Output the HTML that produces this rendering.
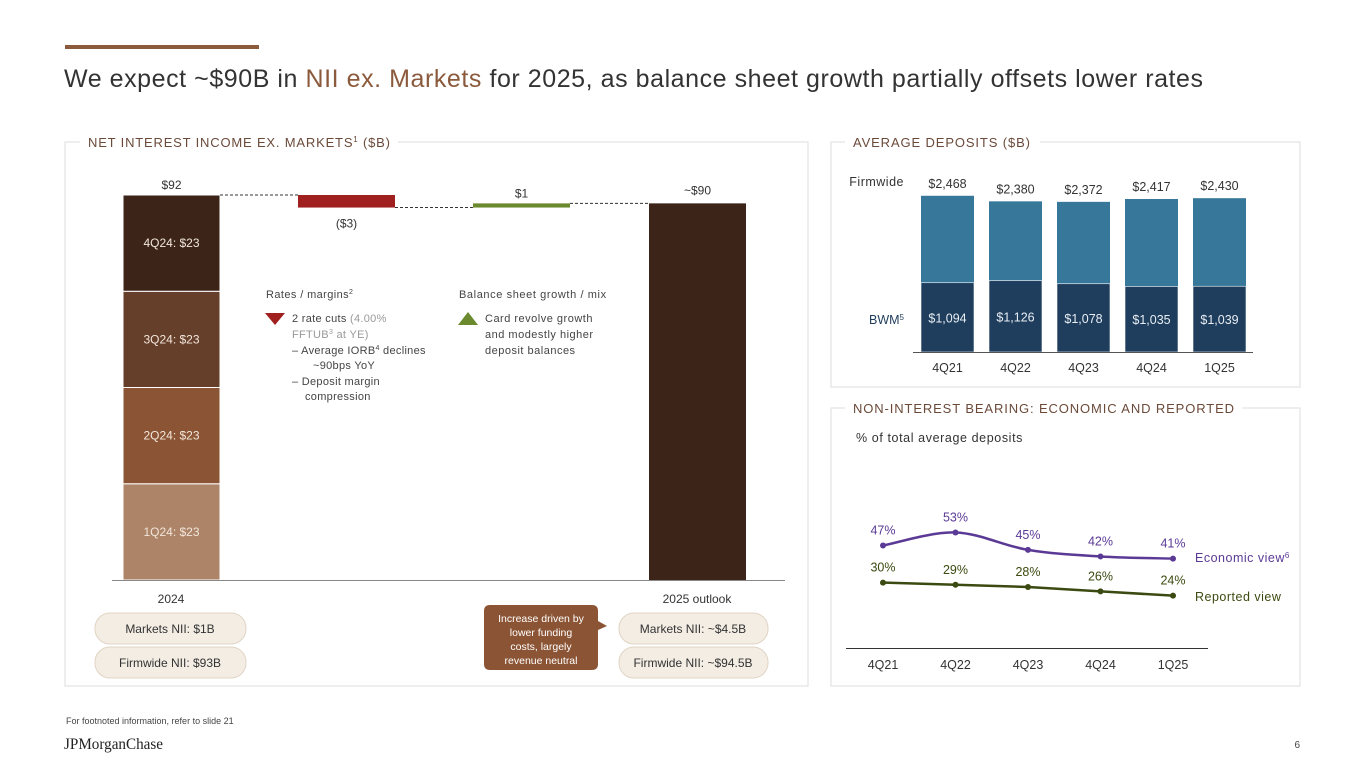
<!DOCTYPE html>
<html><head><meta charset="utf-8"><style>
html,body{margin:0;padding:0;background:#fff;}
svg{display:block;font-family:"Liberation Sans",sans-serif;}
</style></head><body>
<svg id="s" width="1365" height="768" viewBox="0 0 1365 768" xmlns="http://www.w3.org/2000/svg">
<rect x="65" y="45" width="194" height="4" fill="#8b5a3c"/>
<text x="64" y="87" font-size="25" fill="#333" textLength="1139" lengthAdjust="spacing">We expect ~$90B in <tspan fill="#8b5a3c">NII ex. Markets</tspan> for 2025, as balance sheet growth partially offsets lower rates</text>

<!-- panels -->
<g fill="none" stroke="#ddd" stroke-width="1">
<path d="M80 142 H65 V686 H808 V142 H398"/>
<path d="M845 142 H831 V387 H1300 V142 H1040"/>
<path d="M845 408 H831 V686 H1300 V408 H1242"/>
</g>
<text x="88" y="147" font-size="13" fill="#6b4a3a" textLength="302" lengthAdjust="spacing">NET INTEREST INCOME EX. MARKETS<tspan font-size="8" dy="-5">1</tspan><tspan dy="5"> ($B)</tspan></text>
<text x="853" y="147" font-size="13" fill="#6b4a3a" textLength="177" lengthAdjust="spacing">AVERAGE DEPOSITS ($B)</text>
<text x="853" y="413" font-size="13" fill="#6b4a3a" textLength="381" lengthAdjust="spacing">NON-INTEREST BEARING: ECONOMIC AND REPORTED</text>

<g id="wf"></g>
<g id="dep"></g>
<g id="nib"></g>

<!-- annotations -->
<text x="266" y="298" font-size="11" fill="#444" letter-spacing="0.4">Rates / margins<tspan font-size="7" dy="-4">2</tspan></text>
<polygon points="265,313 285,313 275,325" fill="#a01f1f"/>
<text font-size="11" fill="#444" letter-spacing="0.3">
<tspan x="292" y="322">2 rate cuts <tspan fill="#999">(4.00%</tspan></tspan>
<tspan x="292" y="338" fill="#999">FFTUB<tspan font-size="7" dy="-4">3</tspan><tspan dy="4"> at YE)</tspan></tspan>
<tspan x="292" y="354">–  Average IORB<tspan font-size="7" dy="-4">4</tspan><tspan dy="4"> declines</tspan></tspan>
<tspan x="313" y="369">~90bps YoY</tspan>
<tspan x="292" y="385">–  Deposit margin</tspan>
<tspan x="305" y="400">compression</tspan>
</text>
<text x="459" y="298" font-size="11" fill="#444" letter-spacing="0.6">Balance sheet growth / mix</text>
<polygon points="458,325 478,325 468,312" fill="#6b8a2e"/>
<text font-size="11" fill="#444" letter-spacing="0.5">
<tspan x="485" y="322">Card revolve growth</tspan>
<tspan x="485" y="338">and modestly higher</tspan>
<tspan x="485" y="354">deposit balances</tspan>
</text>

<text x="171" y="603" font-size="12" fill="#333" text-anchor="middle">2024</text>
<text x="697" y="603" font-size="12" fill="#333" text-anchor="middle">2025 outlook</text>

<g font-size="12" fill="#333" text-anchor="middle">
<rect x="95" y="613" width="151" height="31" rx="15" fill="#f3ede4" stroke="#e0d4c4"/>
<text x="170" y="633">Markets NII: $1B</text>
<rect x="95" y="647" width="151" height="31" rx="15" fill="#f3ede4" stroke="#e0d4c4"/>
<text x="170" y="667">Firmwide NII: $93B</text>
<rect x="619" y="613" width="149" height="31" rx="15" fill="#f3ede4" stroke="#e0d4c4"/>
<text x="693" y="633">Markets NII: ~$4.5B</text>
<rect x="619" y="647" width="149" height="31" rx="15" fill="#f3ede4" stroke="#e0d4c4"/>
<text x="693" y="667">Firmwide NII: ~$94.5B</text>
</g>
<path d="M490 605 H592 Q598 605 598 611 V621 L607 626 L598 630 V664 Q598 670 592 670 H490 Q484 670 484 664 V611 Q484 605 490 605 Z" fill="#8b5434"/>
<text font-size="10.5" fill="#fff" text-anchor="middle">
<tspan x="541" y="622">Increase driven by</tspan><tspan x="541" y="636">lower funding</tspan><tspan x="541" y="650">costs, largely</tspan><tspan x="541" y="664">revenue neutral</tspan></text>

<text x="66" y="724" font-size="9" fill="#444">For footnoted information, refer to slide 21</text>
<text x="64" y="749" font-size="16" fill="#222" font-family="Liberation Serif,serif" textLength="99" lengthAdjust="spacingAndGlyphs">JPMorganChase</text>
<text x="1300" y="748" font-size="10" fill="#444" text-anchor="end">6</text>
</svg>
<script>
const NS="http://www.w3.org/2000/svg";
function mk(p,tag,attrs,txt){const e=document.createElementNS(NS,tag);for(const k in attrs)e.setAttribute(k,attrs[k]);if(txt!==undefined)e.textContent=txt;p.appendChild(e);return e;}

// ---------- Waterfall data ----------
const wfQuarters=["1Q24","2Q24","3Q24","4Q24"];
const wfQuarterValues=[23,23,23,23];
const wfTotal2024=92;
const wfRates=-3;
const wfBalance=1;
const wfTotal2025=90;
const wfTopLabels=["$92","($3)","$1","~$90"];

const wf=document.getElementById('wf');
const wfBase=580, wfScale=385/92;
const wY=v=>wfBase-v*wfScale;
const wfX=[123,298,473,649], wfW=97;
const qColors=["#ad8467","#8b5434","#663f2a","#3d2418"];
let cum=0;
wfQuarters.forEach((q,i)=>{
  const y0=wY(cum), y1=wY(cum+wfQuarterValues[i]);
  const r=mk(wf,'rect',{x:wfX[0],y:y1,width:wfW,height:y0-y1,fill:qColors[i],stroke:"#fff","stroke-width":1});
  
  
  const t=mk(wf,'text',{x:wfX[0]+wfW/2,y:(y0+y1)/2+4,"font-size":12,fill:"#f1e6dc","text-anchor":"middle"},q+": $"+wfQuarterValues[i]);
  
  
  cum+=wfQuarterValues[i];
});
const afterRates=wfTotal2024+wfRates;
const rr=mk(wf,'rect',{x:wfX[1],y:wY(wfTotal2024),width:wfW,height:wY(afterRates)-wY(wfTotal2024),fill:"#a01f1f"});


const afterBal=afterRates+wfBalance;
const br=mk(wf,'rect',{x:wfX[2],y:wY(afterBal),width:wfW,height:wY(afterRates)-wY(afterBal),fill:"#6b8a2e"});


const tr=mk(wf,'rect',{x:wfX[3],y:wY(wfTotal2025),width:wfW,height:wfBase-wY(wfTotal2025),fill:"#3d2418"});


[[wfX[0]+wfW,wfX[1],wY(wfTotal2024)],[wfX[1]+wfW,wfX[2],wY(afterRates)],[wfX[2]+wfW,wfX[3],wY(afterBal)]].forEach((c,i)=>{
  const l=mk(wf,'line',{x1:c[0],x2:c[1],y1:c[2],y2:c[2],stroke:"#333","stroke-dasharray":"3,2","stroke-width":1});
  
  
});
const wfLabelY=[wY(wfTotal2024)-6,wY(afterRates)+20,wY(afterBal)-6,wY(wfTotal2025)-9];
wfTopLabels.forEach((s,i)=>{
  const t=mk(wf,'text',{x:wfX[i]+wfW/2,y:wfLabelY[i],"font-size":12,fill:"#333","text-anchor":"middle"},s);
  
  
});
const wax=mk(wf,'line',{x1:112,x2:785,y1:wfBase+0.5,y2:wfBase+0.5,stroke:"#888","stroke-width":1});



// ---------- Deposits data ----------
const depPeriods=["4Q21","4Q22","4Q23","4Q24","1Q25"];
const depFirmwide=[2468,2380,2372,2417,2430];
const depBWM=[1094,1126,1078,1035,1039];

const dep=document.getElementById('dep');
const dBase=352, dScale=0.0633;
const dY=v=>dBase-v*dScale;
const dX=i=>921+i*68, dW=53;
depPeriods.forEach((p,i)=>{
  const r1=mk(dep,'rect',{x:dX(i),y:dY(depFirmwide[i]),width:dW,height:dY(depBWM[i])-dY(depFirmwide[i]),fill:"#36779a"});
  
  
  const r2=mk(dep,'rect',{x:dX(i),y:dY(depBWM[i]),width:dW,height:dBase-dY(depBWM[i]),fill:"#1f3d5c",stroke:"#fff","stroke-width":0.6});
  
  
  const t1=mk(dep,'text',{x:dX(i)+dW/2,y:dY(depFirmwide[i])-8,"font-size":12.5,fill:"#333","text-anchor":"middle"},"$"+depFirmwide[i].toLocaleString('en-US'));
  
  
  const t2=mk(dep,'text',{x:dX(i)+dW/2,y:(dBase+dY(depBWM[i]))/2+5,"font-size":12.5,fill:"#e8eef4","text-anchor":"middle"},"$"+depBWM[i].toLocaleString('en-US'));
  
  
  const t3=mk(dep,'text',{x:dX(i)+dW/2,y:372,"font-size":12.5,fill:"#333","text-anchor":"middle"},p);
  
  
});
const dax=mk(dep,'line',{x1:913,x2:1253,y1:dBase+0.5,y2:dBase+0.5,stroke:"#555"});


const fl=mk(dep,'text',{x:904,y:186,"font-size":12.5,fill:"#333","text-anchor":"end","letter-spacing":0.5},"Firmwide");


const bl=mk(dep,'text',{x:904,y:324,"font-size":12.5,fill:"#1f3d5c","text-anchor":"end"},"BWM");


mk(bl,'tspan',{"font-size":8,dy:-4},"5");

// ---------- Non-interest bearing data ----------
const nibPeriods=["4Q21","4Q22","4Q23","4Q24","1Q25"];
const nibEconomic=[47,53,45,42,41];
const nibReported=[30,29,28,26,24];

const nib=document.getElementById('nib');
const nBase=648, nScale=2.18;
const nY=v=>nBase-v*nScale;
const nX=i=>883+i*72.5;
const st=mk(nib,'text',{x:856,y:442,"font-size":12.5,fill:"#333","letter-spacing":0.6},"% of total average deposits");


function smooth(vals){
  const pts=vals.map((v,i)=>[nX(i),nY(v)]);
  let d="M"+pts[0][0]+" "+pts[0][1];
  for(let i=0;i<pts.length-1;i++){
    const p0=pts[i-1]||pts[i],p1=pts[i],p2=pts[i+1],p3=pts[i+2]||p2;
    const c1=[p1[0]+(p2[0]-p0[0])/6,p1[1]+(p2[1]-p0[1])/6];
    const c2=[p2[0]-(p3[0]-p1[0])/6,p2[1]-(p3[1]-p1[1])/6];
    d+=` C${c1[0]} ${c1[1]} ${c2[0]} ${c2[1]} ${p2[0]} ${p2[1]}`;
  }
  return d;
}
const eL=mk(nib,'path',{d:smooth(nibEconomic),fill:"none",stroke:"#5b3a96","stroke-width":2.5});


const rLpts=nibReported.map((v,i)=>nX(i)+","+nY(v)).join(" ");
const rL=mk(nib,'polyline',{points:rLpts,fill:"none",stroke:"#3b4a10","stroke-width":2.5});


nibPeriods.forEach((p,i)=>{
  const c1=mk(nib,'circle',{cx:nX(i),cy:nY(nibEconomic[i]),r:3,fill:"#5b3a96"});
  
  
  const c2=mk(nib,'circle',{cx:nX(i),cy:nY(nibReported[i]),r:3,fill:"#3b4a10"});
  
  
  const t1=mk(nib,'text',{x:nX(i),y:nY(nibEconomic[i])-11,"font-size":12.5,fill:"#5b3a96","text-anchor":"middle"},nibEconomic[i]+"%");
  
  
  const t2=mk(nib,'text',{x:nX(i),y:nY(nibReported[i])-11,"font-size":12.5,fill:"#3b4a10","text-anchor":"middle"},nibReported[i]+"%");
  
  
  const t3=mk(nib,'text',{x:nX(i),y:669,"font-size":12.5,fill:"#333","text-anchor":"middle"},p);
  
  
});
const nax=mk(nib,'line',{x1:846,x2:1208,y1:nBase+0.5,y2:nBase+0.5,stroke:"#333"});


const le=mk(nib,'text',{x:1195,y:562,"font-size":12.5,fill:"#5b3a96","letter-spacing":0.5},"Economic view");


mk(le,'tspan',{"font-size":8,dy:-4},"6");
const lr=mk(nib,'text',{x:1195,y:601,"font-size":12.5,fill:"#3b4a10","letter-spacing":0.5},"Reported view");


</script>
</body></html>
